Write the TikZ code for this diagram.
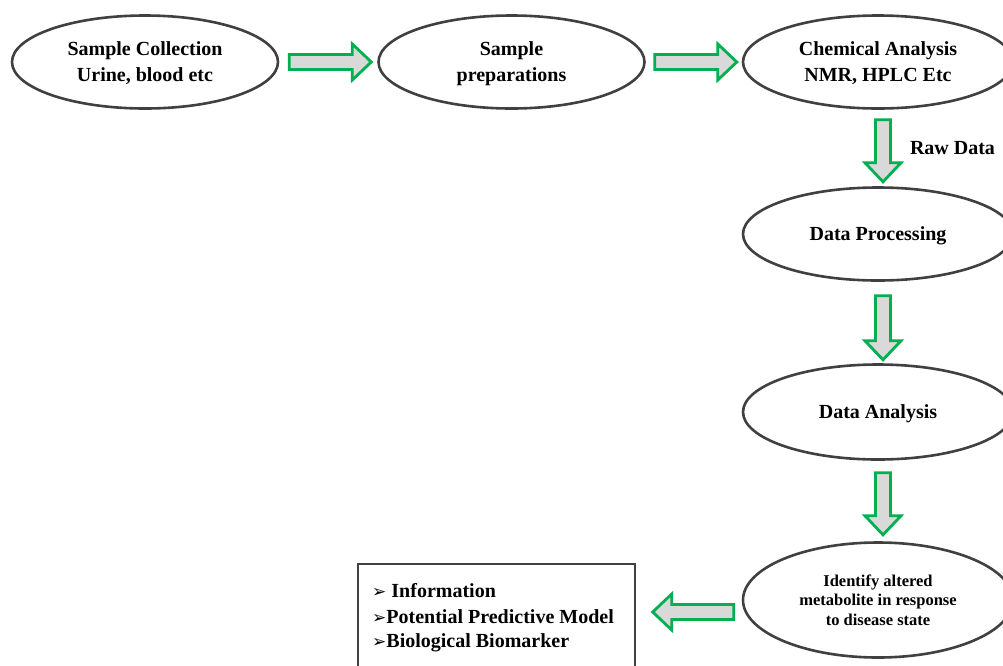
\documentclass[tikz,border=0pt]{standalone}
\usepackage{fontspec}
\setmainfont{Liberation Serif}
\newfontfamily\dejavu{DejaVu Sans}
\usetikzlibrary{shapes.geometric,calc}
\definecolor{agreen}{HTML}{00B050}
\definecolor{agray}{HTML}{D9D9D9}
\definecolor{edge}{HTML}{404040}
\newcommand{\arrowmark}{{\mdseries\dejavu\fontsize{17}{17}\selectfont ➢}}
\tikzset{
  stage/.style={ellipse, draw=edge, line width=2.6pt, fill=white, inner sep=0pt,
    minimum width=266pt, minimum height=93pt, align=center, text depth=0pt,
    font=\bfseries\fontsize{20}{26}\selectfont},
  blockarrow/.style={draw=agreen, fill=agray, line width=2.8pt, line join=miter},
  itemtext/.style={anchor=base west, inner sep=0pt, font=\bfseries\fontsize{20}{25}\selectfont},
}
\newcommand{\blockarr}[3]{%
  \begin{scope}[shift={#1}, rotate=#2]
    \path[blockarrow] (0,-7.5) -- ({#3-19},-7.5) -- ({#3-19},-18) -- (#3,0)
      -- ({#3-19},18) -- ({#3-19},7.5) -- (0,7.5) -- cycle;
  \end{scope}}
\begin{document}
\begin{tikzpicture}[x=1pt,y=-1pt]
\useasboundingbox (0,0) rectangle (1003,665);
\clip (0,0) rectangle (1003,665);
\node[stage] (e1) at (145,62) {Sample Collection\\Urine, blood etc};
\node[stage] (e2) at (511.5,62) {Sample\\preparations};
\node[stage, minimum width=270pt] (e3) at (878,62) {Chemical Analysis\\NMR, HPLC Etc};
\node[stage, minimum width=270pt] (e4) at (878,234) {Data Processing};
\node[stage, minimum width=270pt, minimum height=95pt] (e5) at (878,412) {Data Analysis};
\node[stage, minimum width=270pt, minimum height=115pt, font=\bfseries\fontsize{16.5}{19.5}\selectfont] (e6) at (878,600)
  {Identify altered\\metabolite in response\\to disease state};
\node[anchor=center, inner sep=0pt, font=\bfseries\fontsize{20}{24}\selectfont] (raw) at (952.5,148) {Raw Data};
% result box
\draw[draw=edge, line width=2.6pt] (358,564) rectangle (635,690);
\node[itemtext] (i1) at (372,597) {\arrowmark{} Information};
\node[itemtext] (i2) at (372,623) {\arrowmark{}Potential Predictive Model};
\node[itemtext] (i3) at (372,647) {\arrowmark{}Biological Biomarker};
% block arrows
\blockarr{($(e1.east)+(10,0)$)}{0}{82}
\blockarr{($(e2.east)+(9,0)$)}{0}{82}
\blockarr{($(e3.south)+(5,10)$)}{-90}{62}
\blockarr{($(e4.south)+(5,14)$)}{-90}{64}
\blockarr{($(e5.south)+(5,12)$)}{-90}{62}
\blockarr{($(e6.west)+(-8,12)$)}{180}{81}
\end{tikzpicture}
\end{document}
